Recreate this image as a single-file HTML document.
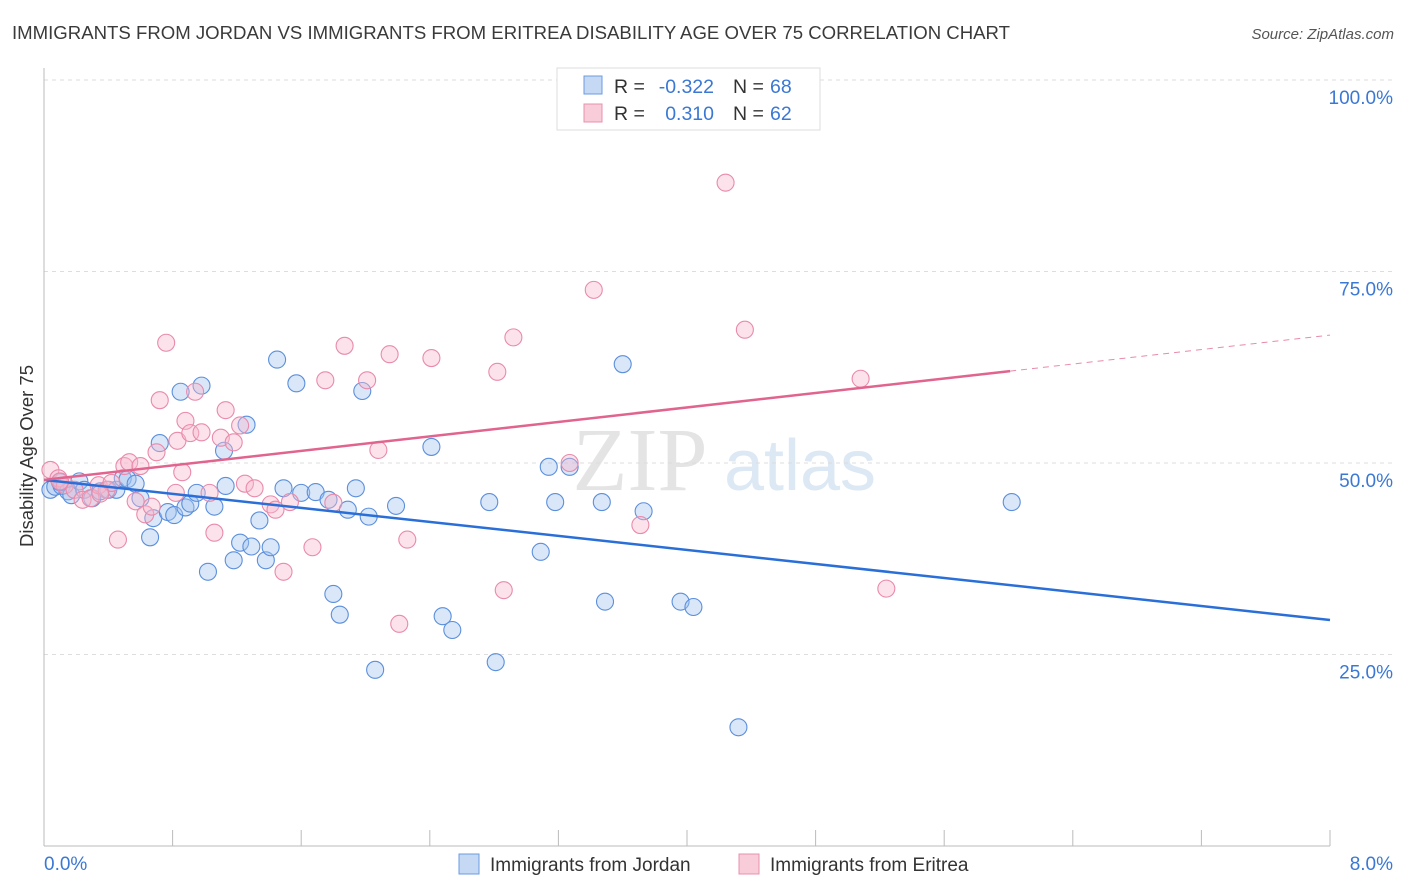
<!DOCTYPE html>
<html><head><meta charset="utf-8"><style>
body{margin:0;background:#fff;font-family:"Liberation Sans",sans-serif;}
svg{display:block}
</style></head><body>
<svg id="c" width="1406" height="892">
<text x="12" y="39" font-size="18.6" fill="#3a3a3a">IMMIGRANTS FROM JORDAN VS IMMIGRANTS FROM ERITREA DISABILITY AGE OVER 75 CORRELATION CHART</text>
<text x="1394" y="39" font-size="15" fill="#555" font-style="italic" text-anchor="end">Source: ZipAtlas.com</text>
<text x="640" y="490" font-size="90" fill="#e4e4e4" font-family="Liberation Serif" text-anchor="middle">ZIP</text>
<text x="800" y="490" font-size="72" fill="#dde8f5" text-anchor="middle">atlas</text>
<text x="33" y="456" font-size="18.5" fill="#333" text-anchor="middle" transform="rotate(-90 33 456)">Disability Age Over 75</text>
<g id="grid"></g><g id="marks"></g>
<g>
<rect x="557" y="68" width="263" height="62" fill="#fff" stroke="#ddd"/>
<rect x="584" y="76" width="18" height="18" fill="#c5d9f5" stroke="#6a9be0"/>
<rect x="584" y="104" width="18" height="18" fill="#f9ccd9" stroke="#e890ad"/>
<text x="614" y="93" font-size="19.5" fill="#333">R =</text>
<text x="714" y="93" font-size="19.5" fill="#3a78d4" text-anchor="end">-0.322</text>
<text x="733" y="93" font-size="19.5" fill="#333">N =</text>
<text x="770" y="93" font-size="19.5" fill="#3a78d4">68</text>
<text x="614" y="120" font-size="19.5" fill="#333">R =</text>
<text x="714" y="120" font-size="19.5" fill="#3a78d4" text-anchor="end">0.310</text>
<text x="733" y="120" font-size="19.5" fill="#333">N =</text>
<text x="770" y="120" font-size="19.5" fill="#3a78d4">62</text>
</g>
<g>
<rect x="459" y="854" width="20" height="20" fill="#c5d9f5" stroke="#6a9be0"/>
<text x="490" y="871" font-size="19" fill="#333">Immigrants from Jordan</text>
<rect x="739" y="854" width="20" height="20" fill="#f9ccd9" stroke="#e890ad"/>
<text x="770" y="871" font-size="19" fill="#333">Immigrants from Eritrea</text>
</g>
</svg>
<script>
const xTicks=[0,0.8,1.6,2.4,3.2,4.0,4.8,5.6,6.4,7.2,8.0];
const yTicks=[25,50,75,100];
const yTickLabels=["25.0%","50.0%","75.0%","100.0%"];
const jordanX=[0.04,0.07,0.11,0.15,0.17,0.22,0.25,0.30,0.35,0.40,0.45,0.49,0.52,0.57,0.60,0.66,0.68,0.72,0.77,0.81,0.85,0.88,0.91,0.95,0.98,1.02,1.06,1.12,1.13,1.18,1.22,1.26,1.29,1.34,1.38,1.41,1.45,1.49,1.57,1.60,1.69,1.77,1.80,1.84,1.89,1.94,1.98,2.02,2.06,2.19,2.41,2.48,2.54,2.77,2.81,3.09,3.14,3.18,3.27,3.47,3.49,3.60,3.73,3.96,4.04,4.32,6.02,0.10];
const jordanY=[46.5,46.9,47.0,46.3,45.8,47.6,46.5,45.4,46.3,46.5,46.5,48.0,47.9,47.3,45.4,40.3,42.8,52.6,43.6,43.2,59.3,44.2,44.7,46.1,60.1,35.8,44.3,51.6,47.0,37.3,39.6,55.0,39.1,42.5,37.3,39.0,63.5,46.7,60.4,46.1,46.2,45.2,32.9,30.2,43.9,46.7,59.4,43.0,23.0,44.4,52.1,30.0,28.2,44.9,24.0,38.4,49.5,44.9,49.5,44.9,31.9,62.9,43.7,31.9,31.2,15.5,44.9,47.5];
const eritreaX=[0.04,0.09,0.13,0.19,0.24,0.29,0.34,0.39,0.42,0.46,0.50,0.53,0.57,0.60,0.63,0.67,0.70,0.72,0.76,0.82,0.83,0.86,0.88,0.91,0.94,0.98,1.03,1.06,1.10,1.13,1.18,1.22,1.25,1.31,1.41,1.44,1.49,1.53,1.67,1.75,1.80,1.87,2.01,2.08,2.15,2.21,2.26,2.41,2.82,2.86,2.92,3.27,3.42,3.71,4.24,4.36,5.08,5.24,0.10,0.35];
const eritreaY=[49.1,48.0,47.1,46.5,45.2,45.4,47.1,46.5,47.4,40.0,49.6,50.1,45.0,49.6,43.3,44.3,51.4,58.2,65.7,46.1,52.9,48.8,55.5,53.9,59.3,54.0,46.1,40.9,53.3,56.9,52.7,54.9,47.3,46.7,44.6,43.9,35.8,44.9,39.0,60.8,44.8,65.3,60.8,51.7,64.2,29.0,40.0,63.7,61.9,33.4,66.4,50.0,72.6,41.9,86.6,67.4,61.0,33.6,47.6,46.0];
const blueLine=[47.8,29.5];
const pinkLine=[47.8,66.7];
const ns="http://www.w3.org/2000/svg";
const X=v=>44+v/8*1286, Y=v=>846-v/100*766;
function mk(t,a,p){const e=document.createElementNS(ns,t);for(const k in a)e.setAttribute(k,a[k]);p.appendChild(e);return e;}
const g=document.getElementById('grid'), m=document.getElementById('marks');
yTicks.forEach((t,i)=>{
 const l=mk('line',{x1:44,x2:1393,y1:Y(t),y2:Y(t),stroke:'#ddd','stroke-dasharray':'4,4'},g);
 
 
 const tx=mk('text',{x:1393,y:Y(t)+24,'font-size':19,fill:'#3a78d4','text-anchor':'end'},g);
 tx.textContent=yTickLabels[i];
 
 
});
const ax=mk('line',{x1:44,x2:44,y1:68,y2:846,stroke:'#bbb'},g);


const bx=mk('line',{x1:44,x2:1330,y1:846,y2:846,stroke:'#bbb'},g);


xTicks.forEach(t=>{
 const l=mk('line',{x1:X(t),x2:X(t),y1:830,y2:846,stroke:'#bbb'},g);
 
 
});
const xl0=mk('text',{x:44,y:870,'font-size':19,fill:'#3a78d4'},g);xl0.textContent=xTicks[0].toFixed(1)+'%';


const xl1=mk('text',{x:1393,y:870,'font-size':19,fill:'#3a78d4','text-anchor':'end'},g);xl1.textContent=xTicks[xTicks.length-1].toFixed(1)+'%';


jordanX.forEach((v,i)=>{
 const c=mk('circle',{cx:X(v),cy:Y(jordanY[i]),r:8.5,fill:'rgba(160,195,240,0.4)',stroke:'#5b8fdc','stroke-width':1.1},m);
 
 
});
eritreaX.forEach((v,i)=>{
 const c=mk('circle',{cx:X(v),cy:Y(eritreaY[i]),r:8.5,fill:'rgba(248,185,205,0.4)',stroke:'#e98aab','stroke-width':1.1},m);
 
 
});
const bl=mk('line',{x1:X(0),y1:Y(blueLine[0]),x2:X(8),y2:Y(blueLine[1]),stroke:'#2a6fd8','stroke-width':2.5},m);


const px=6.01, py=pinkLine[0]+(pinkLine[1]-pinkLine[0])*px/8;
const pl=mk('line',{x1:X(0),y1:Y(pinkLine[0]),x2:X(px),y2:Y(py),stroke:'#e0648e','stroke-width':2.5},m);


const pd=mk('line',{x1:X(px),y1:Y(py),x2:X(8),y2:Y(pinkLine[1]),stroke:'#e98aab','stroke-width':1,'stroke-dasharray':'6,5'},m);


</script>
</body></html>
